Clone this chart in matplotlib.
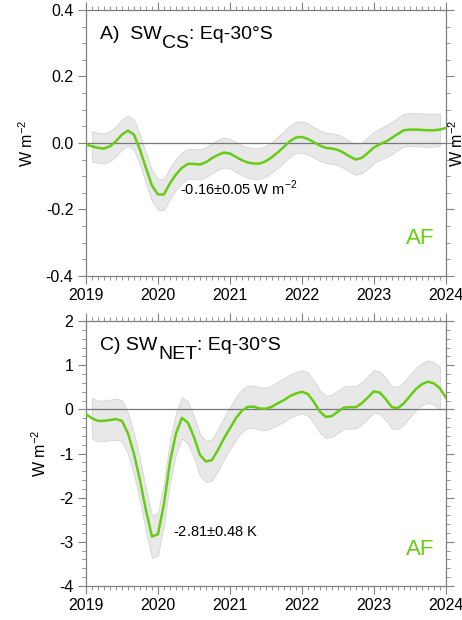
import numpy as np
import matplotlib
matplotlib.use("Agg")
import matplotlib.pyplot as plt
from matplotlib.ticker import MultipleLocator

plt.rcParams['font.family'] = ['Liberation Sans', 'DejaVu Sans']
plt.rcParams['mathtext.fontset'] = 'custom'
plt.rcParams['mathtext.rm'] = 'Liberation Sans'

# monthly time axis, Jan 2019 .. Jan 2024
months = 2019 + np.arange(61) / 12.0

# A) SW clear-sky, Eq-30S (W m-2)
sw_cs = [-0.005, -0.010, -0.015, -0.017, -0.010, 0.005, 0.025, 0.037, 0.025, -0.020,
         -0.075, -0.128, -0.155, -0.155, -0.122, -0.095, -0.075, -0.063, -0.063, -0.065,
         -0.058, -0.046, -0.036, -0.029, -0.032, -0.042, -0.052, -0.059, -0.062, -0.062,
         -0.055, -0.043, -0.028, -0.012, 0.005, 0.016, 0.018, 0.012, 0.002, -0.008,
         -0.015, -0.017, -0.021, -0.030, -0.041, -0.050, -0.045, -0.030, -0.014, -0.004,
         0.004, 0.015, 0.027, 0.038, 0.040, 0.040, 0.039, 0.038, 0.038, 0.040,
         0.045]
sw_cs_err = [0.046, 0.046, 0.045, 0.045, 0.045, 0.045, 0.045, 0.045, 0.046, 0.046,
             0.046, 0.047, 0.047, 0.047, 0.047, 0.046, 0.046, 0.045, 0.045, 0.045,
             0.045, 0.045, 0.045, 0.045, 0.045, 0.045, 0.045, 0.046, 0.046, 0.046,
             0.046, 0.046, 0.047, 0.047, 0.047, 0.047, 0.047, 0.047, 0.046, 0.046,
             0.046, 0.046, 0.046, 0.046, 0.046, 0.046, 0.046, 0.047, 0.047, 0.047,
             0.048, 0.048, 0.049, 0.049, 0.050, 0.050, 0.050, 0.050, 0.049, 0.049,
             0.049]

# C) SW net, Eq-30S (W m-2)
sw_net = [-0.11, -0.20, -0.26, -0.26, -0.24, -0.22, -0.26, -0.54, -1.00, -1.60,
          -2.28, -2.88, -2.83, -2.15, -1.20, -0.55, -0.19, -0.30, -0.62, -1.03,
          -1.18, -1.15, -0.92, -0.66, -0.43, -0.20, -0.03, 0.06, 0.06, 0.02,
          0.015, 0.06, 0.14, 0.21, 0.30, 0.36, 0.40, 0.35, 0.17, -0.05,
          -0.17, -0.15, -0.05, 0.04, 0.05, 0.05, 0.14, 0.27, 0.41, 0.38,
          0.23, 0.05, 0.03, 0.14, 0.30, 0.46, 0.57, 0.63, 0.59, 0.48,
          0.27]
sw_net_err = [0.46, 0.46, 0.46, 0.46, 0.46, 0.47, 0.47, 0.47, 0.47, 0.48,
              0.48, 0.48, 0.48, 0.48, 0.48, 0.47, 0.47, 0.47, 0.47, 0.47,
              0.47, 0.47, 0.47, 0.47, 0.48, 0.48, 0.48, 0.48, 0.48, 0.48,
              0.48, 0.48, 0.49, 0.49, 0.49, 0.49, 0.49, 0.49, 0.48, 0.48,
              0.48, 0.48, 0.48, 0.48, 0.48, 0.48, 0.48, 0.48, 0.48, 0.48,
              0.48, 0.48, 0.48, 0.48, 0.48, 0.48, 0.48, 0.48, 0.48, 0.48,
              0.48]

years = [2019, 2020, 2021, 2022, 2023, 2024]
green = '#66cc14'
grey = '#808080'


def draw_title(ax, head, sub, tail):
    # subscript drawn at full size, dropped below the baseline (NCL style)
    t1 = ax.text(0.039, 0.892, head, transform=ax.transAxes, fontsize=14,
                 va='baseline', ha='left')
    t2 = ax.annotate(sub, xy=(1, 0), xycoords=t1, xytext=(0.5, -7),
                     textcoords='offset points', fontsize=14,
                     va='bottom', ha='left')
    ax.annotate(tail, xy=(1, 0), xycoords=t2, xytext=(0, 7),
                textcoords='offset points', fontsize=14,
                va='bottom', ha='left')


def draw_panel(ax, y, err, ylim, major, minor, fmt, title, note, note_xy, af_xy):
    y = np.array(y)
    err = np.array(err)
    # shading only from Feb 2019 to Dec 2023
    s = slice(1, 60)
    ax.fill_between(months[s], y[s] - err[s], y[s] + err[s],
                    facecolor='#e8e8e8', edgecolor='#cfcfcf', lw=0.5, zorder=1)
    ax.axhline(0, color='#777777', lw=0.9, zorder=2)
    ax.plot(months, y, color=green, lw=1.8, zorder=3)

    ax.set_xlim(2019, 2024)
    ax.set_ylim(*ylim)
    ax.set_xticks(years)
    ax.set_xticklabels([str(v) for v in years])
    ax.xaxis.set_minor_locator(MultipleLocator(1 / 12.0))
    ax.yaxis.set_major_locator(MultipleLocator(major))
    ax.yaxis.set_minor_locator(MultipleLocator(minor))
    ax.yaxis.set_major_formatter(fmt)

    ax.tick_params(which='both', direction='out', top=True, right=True,
                   color=grey, labelsize=11.5, pad=3)
    ax.tick_params(which='major', length=6, width=0.8)
    ax.tick_params(which='minor', length=3, width=0.6)
    for sp in ax.spines.values():
        sp.set_color(grey)
        sp.set_linewidth(0.9)

    ax.set_ylabel(r'W m$^{-2}$', fontsize=11.5, labelpad=7)
    draw_title(ax, *title)
    ax.text(note_xy[0], note_xy[1], note, fontsize=10.5, va='baseline', ha='left')
    ax.text(af_xy[0], af_xy[1], 'AF', fontsize=16, color=green,
            va='baseline', ha='left')


fig = plt.figure(figsize=(4.62, 6.20), dpi=100)
ax1 = fig.add_axes([0.186, 0.555, 0.779, 0.429])
ax2 = fig.add_axes([0.186, 0.055, 0.779, 0.427])

draw_panel(ax1, sw_cs, sw_cs_err, (-0.4, 0.4), 0.2, 0.05,
           lambda v, p: '%.1f' % v,
           ('A)  SW', 'CS', ': Eq-30\u00b0S'),
           r'-0.16$\pm$0.05 W m$^{-2}$', (2020.31, -0.158), (2023.44, -0.305))
draw_panel(ax2, sw_net, sw_net_err, (-4, 2), 1, 0.2,
           lambda v, p: '%d' % v,
           ('C) SW', 'NET', ': Eq-30\u00b0S'),
           r'-2.81$\pm$0.48 K', (2020.21, -2.88), (2023.44, -3.30))

# right-hand unit label on the top panel (cut by the figure edge)
ax1.text(1.004, 0.5, r'W m$^{-2}$', transform=ax1.transAxes, rotation=90,
         fontsize=11.5, va='center', ha='left')

fig.savefig('out.png', dpi=100)
